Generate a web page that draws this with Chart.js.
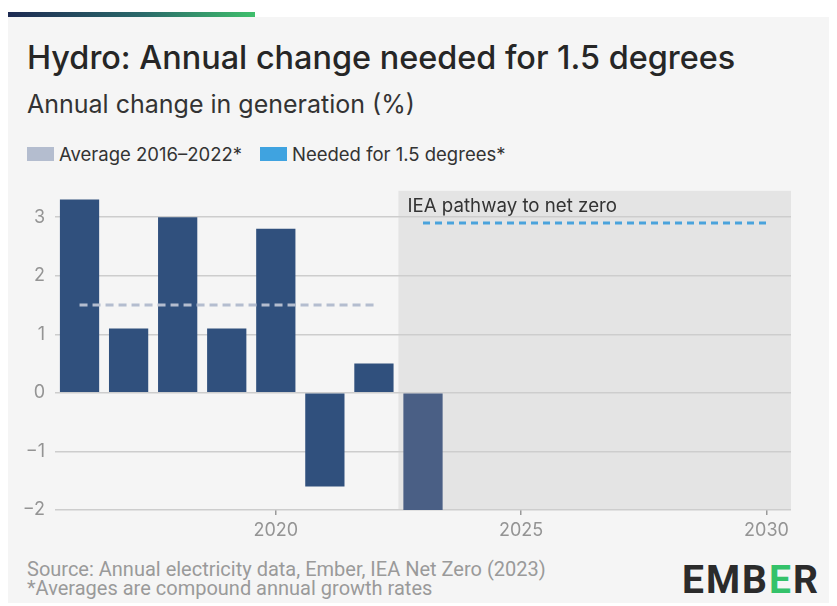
<!DOCTYPE html>
<html>
<head>
<meta charset="utf-8">
<script src="https://cdn.jsdelivr.net/npm/chart.js@4.4.0/dist/chart.umd.min.js"></script>
<style>
  body { margin: 0; background: #fff; width: 837px; height: 606px; overflow: hidden; font-family: Inter, "Noto Sans", sans-serif; }
  .topbar { position: absolute; left: 8px; top: 12px; width: 247px; height: 5px; background: linear-gradient(90deg, #1d2a52, #2a6a6a 55%, #3fbf6c); }
  .card { position: absolute; left: 8px; top: 17px; width: 821px; height: 586px; background: #f5f5f5; }
  .title { position: absolute; left: 27px; top: 38px; font-size: 32.4px; font-weight: 500; color: #262626; white-space: nowrap; }
  .subtitle { position: absolute; left: 27px; top: 89px; font-size: 25px; color: #333; white-space: nowrap; }
  .legend { position: absolute; top: 143px; font-size: 18.5px; color: #333; display: flex; align-items: center; white-space: nowrap; }
  .legend span.box { display: inline-block; width: 27px; height: 14px; margin-right: 5px; }
  .wrap { position: absolute; left: 0; top: 170px; width: 837px; height: 375px; }
  .footer { position: absolute; left: 27px; top: 560px; font-family: Roboto, sans-serif; font-size: 20px; line-height: 19px; color: #9a9a9a; }
  .logo { position: absolute; left: 682px; top: 557px; font-family: Roboto, sans-serif; font-weight: 700; font-size: 39px; letter-spacing: 2px; color: #2b2b2b; }
  .logo .g { color: #34c26a; }
</style>
</head>
<body>
<div class="topbar"></div>
<div class="card"></div>
<div class="title">Hydro: Annual change needed for 1.5 degrees</div>
<div class="subtitle">Annual change in generation (%)</div>
<div class="legend" style="left:27px"><span class="box" style="background:#b4bdcf"></span>Average 2016–2022*</div>
<div class="legend" style="left:260px"><span class="box" style="background:#3fa3e0"></span>Needed for 1.5 degrees*</div>
<div class="wrap"><canvas id="chart" width="837" height="375"></canvas></div>
<div class="footer">Source: Annual electricity data, Ember, IEA Net Zero (2023)<br>*Averages are compound annual growth rates</div>
<div class="logo">EMB<span class="g">E</span>R</div>
<script>
const years = [2016, 2017, 2018, 2019, 2020, 2021, 2022, 2023];
const change = [3.3, 1.1, 3.0, 1.1, 2.8, -1.6, 0.5, -2.0];
const avgYears = [2016, 2022];
const avgValue = 1.5;
const neededYears = [2023, 2030];
const neededValue = 2.9;
const xTicks = [2020, 2025, 2030];
const yTicks = [-2, -1, 0, 1, 2, 3];
const pathwayStart = 2022.5;

const shadePlugin = {
  id: "shade",
  beforeDraw(chart) {
    const { ctx, chartArea, scales } = chart;
    const x0 = scales.x.getPixelForValue(pathwayStart);
    ctx.save();
    ctx.fillStyle = "#e4e4e4";
    ctx.fillRect(x0, chartArea.top, chartArea.right - x0, chartArea.bottom - chartArea.top);
    ctx.restore();
  },
  afterDatasetsDraw(chart) {
    const { ctx, chartArea, scales } = chart;
    const x0 = scales.x.getPixelForValue(pathwayStart);
    ctx.save();
    ctx.fillStyle = "#333";
    ctx.font = "18.7px Inter, sans-serif";
    ctx.textBaseline = "middle";
    ctx.fillText("IEA pathway to net zero", x0 + 9, chartArea.top + 16);
    ctx.restore();
  }
};

new Chart(document.getElementById("chart"), {
  type: "bar",
  data: {
    datasets: [
      {
        type: "line",
        data: avgYears.map(y => ({ x: y, y: avgValue })),
        borderColor: "#b4bdcf",
        borderWidth: 3,
        borderDash: [8, 5],
        pointRadius: 0,
        order: 0,
      },
      {
        type: "line",
        data: neededYears.map(y => ({ x: y, y: neededValue })),
        borderColor: "#4aa3dc",
        borderWidth: 3,
        borderDash: [7, 5],
        pointRadius: 0,
        order: 0,
      },
      {
        data: years.map((y, i) => ({ x: y, y: change[i] })),
        backgroundColor: years.map(y => (y > pathwayStart ? "#4a5f85" : "#30507d")),
        barPercentage: 1,
        categoryPercentage: 0.8,
        order: 1,
      },
    ],
  },
  options: {
    responsive: false,
    animation: false,
    layout: { padding: { top: 5, right: 46 } },
    plugins: { legend: { display: false }, tooltip: { enabled: false } },
    scales: {
      x: {
        type: "linear",
        min: 2015.5,
        max: 2030.5,
        offset: false,
        afterBuildTicks: s => { s.ticks = xTicks.map(v => ({ value: v })); },
        afterFit: s => { s.height = 35; },
        ticks: { color: "#949494", font: { size: 18, family: "Inter" }, padding: 5, callback: v => String(v) },
        grid: { offset: false, drawOnChartArea: false, tickLength: 5, color: "#9a9a9a", lineWidth: 1.5 },
        border: { display: false },
      },
      y: {
        min: -2,
        max: 3.45,
        afterBuildTicks: s => { s.ticks = yTicks.map(v => ({ value: v })); },
        afterFit: s => { s.width = 55; },
        ticks: { color: "#949494", font: { size: 18, family: "Inter" }, padding: 10, callback: v => (v < 0 ? "−" + Math.abs(v) : String(v)) },
        grid: { color: "#cdcdcd", lineWidth: 1.5, drawTicks: false },
        border: { display: false },
      },
    },
  },
  plugins: [shadePlugin],
});
</script>
</body>
</html>
